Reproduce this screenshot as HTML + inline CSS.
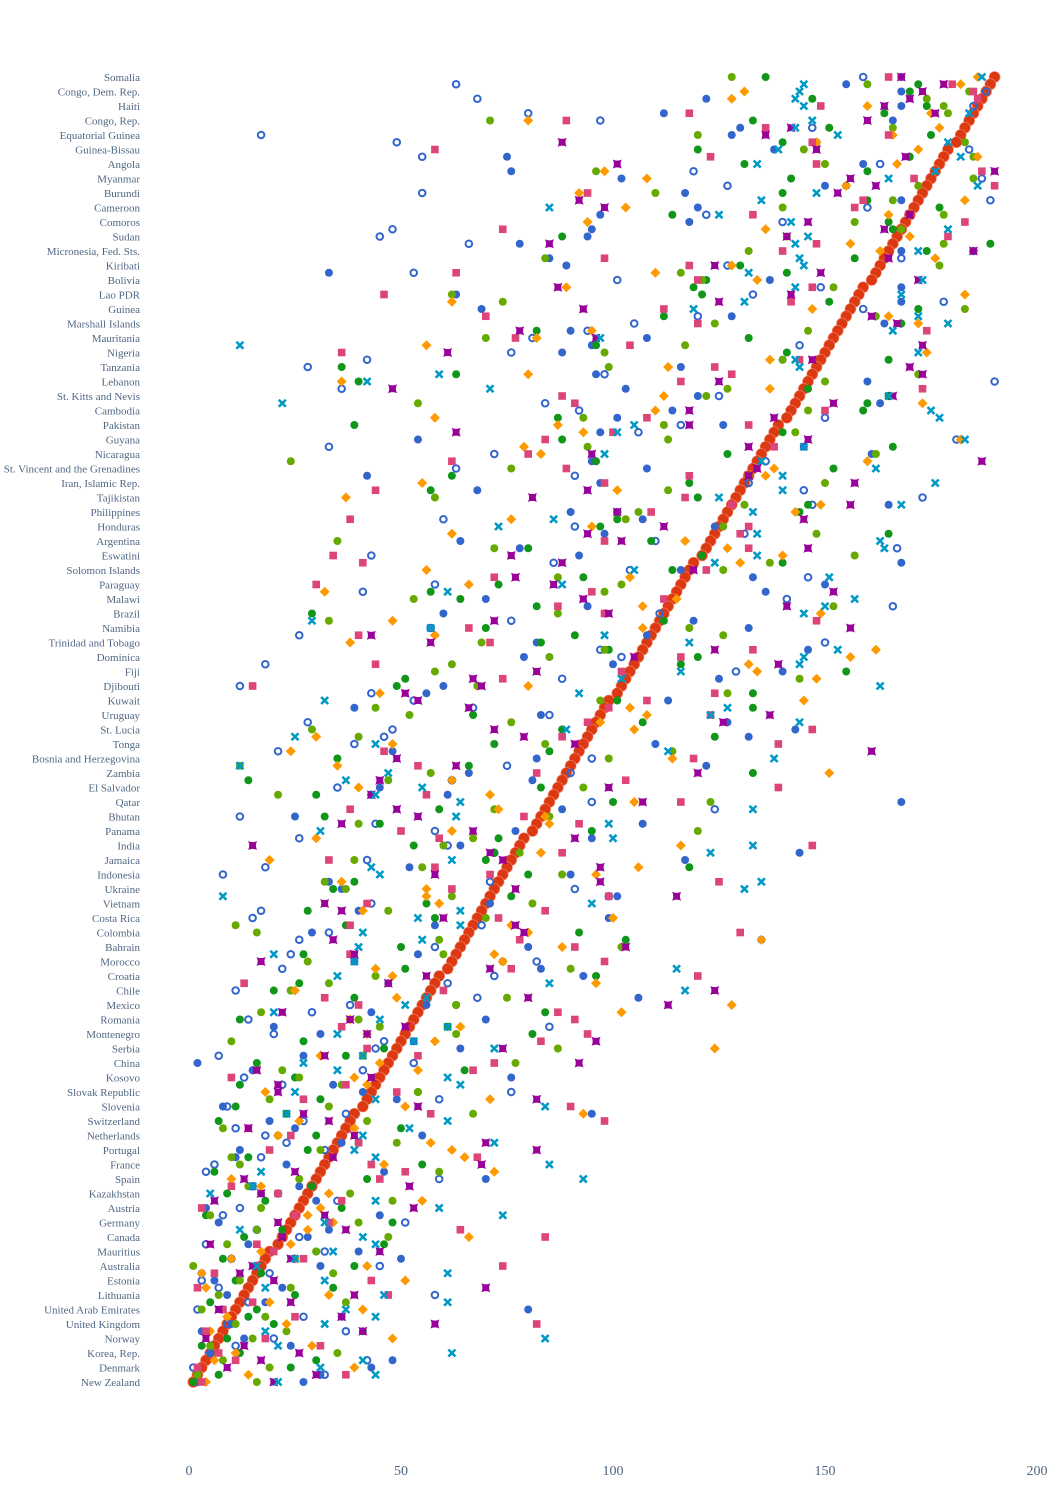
<!DOCTYPE html>
<html><head><meta charset="utf-8"><style>
body{margin:0;background:#fff;}
svg text{font-family:"Liberation Serif",serif;fill:#506784;}
</style></head><body>
<svg id="chart" width="1048" height="1500" xmlns="http://www.w3.org/2000/svg">
<g id="ylabels"></g>
<g id="xticks"></g>
<g id="marks"></g>
</svg>
<script>
const labels=["Somalia","Congo, Dem. Rep.","Haiti","Congo, Rep.","Equatorial Guinea","Guinea-Bissau","Angola","Myanmar","Burundi","Cameroon","Comoros","Sudan","Micronesia, Fed. Sts.","Kiribati","Bolivia","Lao PDR","Guinea","Marshall Islands","Mauritania","Nigeria","Tanzania","Lebanon","St. Kitts and Nevis","Cambodia","Pakistan","Guyana","Nicaragua","St. Vincent and the Grenadines","Iran, Islamic Rep.","Tajikistan","Philippines","Honduras","Argentina","Eswatini","Solomon Islands","Paraguay","Malawi","Brazil","Namibia","Trinidad and Tobago","Dominica","Fiji","Djibouti","Kuwait","Uruguay","St. Lucia","Tonga","Bosnia and Herzegovina","Zambia","El Salvador","Qatar","Bhutan","Panama","India","Jamaica","Indonesia","Ukraine","Vietnam","Costa Rica","Colombia","Bahrain","Morocco","Croatia","Chile","Mexico","Romania","Montenegro","Serbia","China","Kosovo","Slovak Republic","Slovenia","Switzerland","Netherlands","Portugal","France","Spain","Kazakhstan","Austria","Germany","Canada","Mauritius","Australia","Estonia","Lithuania","United Arab Emirates","United Kingdom","Norway","Korea, Rep.","Denmark","New Zealand"];
const xTicks=[0,50,100,150,200];
const rankVals=[190,189,188,187,186,185,184,183,182,181,179,178,177,176,175,174,173,172,171,170,169,168,167,166,165,164,163,162,161,159,158,157,156,155,154,153,152,151,150,149,148,147,146,145,144,143,142,141,139,138,137,136,135,134,133,132,131,130,129,128,127,126,125,124,123,122,121,119,118,117,116,115,114,113,112,111,110,109,108,107,106,105,104,103,102,101,99,98,97,96,95,94,93,92,91,90,89,88,87,86,85,84,83,82,81,79,78,77,76,75,74,73,72,71,70,69,68,67,66,65,64,63,62,61,59,58,57,56,55,54,53,52,51,50,49,48,47,46,45,44,43,42,41,39,38,37,36,35,34,33,32,31,30,29,28,27,26,25,24,23,22,21,19,18,17,16,15,14,13,12,11,10,9,8,7,6,5,4,3,2,1];
const blueVals=[168,155,168,122,168,112,166,130,128,148,138,75,159,76,102,150,117,168,120,97,118,95,94,78,168,85,89,33,137,168,63,168,69,128,164,90,108,95,88,140,116,96,160,103,120,163,114,101,126,97,54,145,161,95,108,42,97,68,120,165,90,107,124,98,64,78,92,168,116,133,150,136,70,94,60,119,132,108,82,146,79,100,140,125,60,56,113,39,83,127,143,132,110,48,82,122,66,81,45,61,168,88,25,107,77,95,64,144,117,52,90,33,36,101,71,40,99,58,29,135,80,54,39,83,93,47,24,106,56,43,70,20,31,53,64,27,2,15,76,34,41,49,8,95,19,25,55,36,12,11,23,46,70,26,17,30,4,45,7,33,28,14,40,50,31,3,6,22,9,18,80,36,10,3,13,24,5,48,43,31,27];
const blueOpenVals=[159,63,188,68,185,80,97,147,17,49,184,55,163,119,187,127,55,189,160,122,140,48,45,66,185,168,127,53,101,149,133,178,159,120,105,94,81,144,76,42,28,98,190,36,125,84,92,150,116,106,181,33,72,136,63,91,132,145,173,147,101,60,91,131,110,167,43,86,104,146,58,41,141,166,111,76,57,26,150,97,102,18,129,88,12,43,53,67,85,28,48,46,39,21,95,75,90,62,35,43,95,124,12,44,58,26,61,72,42,18,8,71,91,99,43,17,15,69,33,26,58,24,82,22,72,61,11,68,38,29,14,85,20,46,44,7,53,41,13,22,76,59,9,37,27,11,18,23,32,17,6,4,59,15,21,35,12,8,51,16,26,4,32,10,45,19,3,7,58,14,2,27,9,37,20,11,5,42,1,32,2];
const greenVals=[136,172,170,147,174,164,133,151,175,140,120,170,131,160,142,155,140,160,177,114,165,166,88,189,174,157,130,141,122,119,121,151,172,112,168,82,132,96,141,165,36,63,40,146,165,160,159,87,39,140,88,166,127,96,152,62,118,57,120,146,144,101,97,165,109,80,121,140,114,93,73,57,64,82,29,112,70,91,83,99,120,116,155,51,49,133,101,133,67,107,88,124,72,85,35,66,133,14,83,30,100,59,32,45,95,73,53,72,70,118,80,39,34,76,56,28,58,37,92,103,50,27,74,51,96,26,20,39,63,84,12,61,81,27,46,37,16,65,25,12,54,31,11,23,7,50,30,40,28,14,55,6,42,29,9,18,36,4,48,22,13,46,30,8,39,17,11,34,25,5,16,14,20,41,9,3,12,30,24,7,1];
const limeVals=[128,160,184,174,178,179,71,166,120,183,145,185,150,96,185,172,110,166,140,178,157,168,141,178,132,84,177,116,121,152,62,74,183,162,124,146,70,117,98,140,99,172,150,127,122,54,146,93,112,143,113,94,162,24,76,132,150,113,58,131,106,103,126,148,35,72,157,137,126,87,102,98,53,152,87,33,118,126,69,98,85,62,58,144,68,127,97,44,52,76,29,40,84,114,99,12,57,47,93,21,123,72,85,40,120,67,60,78,39,55,88,32,37,62,81,47,70,11,16,59,102,60,28,90,44,33,24,75,63,17,40,45,63,10,87,41,77,22,26,36,54,19,33,67,42,8,21,49,31,10,12,59,26,14,38,48,17,5,40,16,47,9,30,25,1,34,12,24,7,37,3,18,11,23,15,5,35,8,19,2,16];
const orangeVals=[186,182,131,128,160,175,80,177,166,148,172,186,167,98,108,155,92,183,103,165,94,136,170,156,163,176,128,110,134,89,183,62,147,165,172,95,82,56,174,137,113,80,36,137,112,173,110,58,87,93,182,79,83,160,138,136,55,101,37,149,143,76,95,62,117,127,140,130,56,104,66,32,115,107,149,48,107,58,38,162,156,132,134,148,80,45,145,104,108,97,105,30,48,24,114,35,151,62,40,71,105,73,84,85,62,30,116,83,19,106,96,36,56,56,59,41,100,76,80,135,88,72,74,44,48,96,25,49,128,102,38,64,42,58,124,31,45,54,39,42,18,71,51,93,26,39,21,57,62,65,46,72,10,17,33,55,31,28,34,28,66,24,17,10,42,3,51,4,33,19,41,9,23,5,48,29,11,6,39,14,4];
const pinkVals=[165,180,185,186,149,118,89,136,165,147,58,123,148,187,171,190,94,159,157,133,183,74,179,148,140,98,118,63,120,147,46,142,112,70,120,174,77,104,36,144,124,128,116,173,88,91,150,108,132,100,84,138,80,62,89,118,98,44,117,128,109,38,132,130,98,132,34,41,122,72,30,95,112,87,98,148,66,40,71,133,116,44,102,74,15,124,108,99,123,94,147,88,139,46,119,54,82,103,139,56,116,38,79,92,50,59,147,88,33,58,71,125,62,99,42,84,73,38,130,78,91,38,98,76,120,13,60,32,40,87,91,36,94,83,42,54,72,67,10,37,49,27,90,57,98,14,24,40,19,68,43,51,45,10,21,36,3,25,33,64,84,16,20,27,74,6,43,2,47,15,8,25,82,4,18,31,7,11,2,37,3];
const purpleVals=[168,178,173,170,164,176,160,142,136,88,148,169,101,190,156,162,153,92,98,170,146,164,141,85,185,165,124,149,172,87,142,125,93,161,167,78,96,173,61,147,170,173,125,48,166,152,118,138,118,63,146,132,95,187,134,132,157,94,81,156,101,145,112,94,102,146,76,88,119,77,86,152,93,141,99,72,156,43,57,124,105,139,82,67,69,51,54,66,137,126,72,79,91,161,49,63,120,45,99,43,107,49,54,36,67,91,15,71,74,97,58,97,77,115,32,36,60,77,79,34,103,39,17,71,56,47,124,80,113,22,38,51,42,96,74,32,92,16,43,21,21,82,54,27,33,14,39,70,82,34,69,25,13,52,17,6,53,32,21,37,22,5,45,24,15,12,20,70,39,24,7,36,58,41,4,13,26,17,9,30,20];
const cyanVals=[187,145,144,143,145,184,147,143,153,179,139,182,134,176,165,186,148,135,85,125,142,179,146,143,172,144,145,132,173,143,168,131,119,172,179,166,97,12,172,143,144,59,42,71,165,22,175,177,105,101,183,145,98,135,162,140,176,140,125,168,133,86,73,134,163,164,134,124,105,151,88,61,157,150,145,29,57,98,118,153,145,144,116,102,163,92,32,127,123,144,89,25,44,113,138,12,47,37,55,44,64,133,63,99,31,100,133,123,62,43,45,135,131,8,95,64,54,64,41,55,40,20,39,115,35,85,117,56,51,20,45,61,35,53,72,41,27,35,61,64,25,44,84,23,61,52,41,72,39,44,85,17,93,15,5,44,59,74,32,12,41,44,34,25,16,61,32,18,46,61,37,44,32,18,84,21,62,41,31,44,21];

const NS="http://www.w3.org/2000/svg";
const X0=189, X1=1037, Y0=77, Y1=1382;
const nRows=rankVals.length;
function xScale(v){return X0+(v-0)*(X1-X0)/200;}
function yScale(i){return Y0+i*(Y1-Y0)/(nRows-1);}
function mk(tag,attrs,parent){const e=document.createElementNS(NS,tag);for(const k in attrs)e.setAttribute(k,attrs[k]);parent.appendChild(e);return e;}

const yl=document.getElementById('ylabels');
labels.forEach((l,k)=>{
  const t=mk('text',{x:140,y:yScale(k*2)+4,'text-anchor':'end','font-size':'11'},yl);
  
  
  t.textContent=l;
});
const xt=document.getElementById('xticks');
xTicks.forEach(v=>{
  const t=mk('text',{x:xScale(v),y:1475,'text-anchor':'middle','font-size':'14'},xt);
  
  
  t.textContent=v;
});

const marks=document.getElementById('marks');
function draw(vals,type,color,name){
  const g=mk('g',{},marks);
  
  
  vals.forEach((v,i)=>{
    if(v==null)return;
    const x=xScale(v),y=yScale(i);let e;
    if(type==='big'){e=mk('circle',{cx:x,cy:y,r:5.5,fill:color,stroke:'#f08a70','stroke-width':0.6},g);}
    else if(type==='circle'){e=mk('circle',{cx:x,cy:y,r:4,fill:color},g);}
    else if(type==='open'){e=mk('circle',{cx:x,cy:y,r:3.3,fill:'none',stroke:color,'stroke-width':2},g);}
    else if(type==='diamond'){e=mk('path',{d:`M${x},${y-5}L${x+5},${y}L${x},${y+5}L${x-5},${y}Z`,fill:color},g);}
    else if(type==='square'){e=mk('rect',{x:x-3.8,y:y-3.8,width:7.6,height:7.6,fill:color},g);}
    else if(type==='star'){const s=4.5,c=2.2;e=mk('path',{d:`M${x-s},${y-s}Q${x},${y-c} ${x+s},${y-s}Q${x+c},${y} ${x+s},${y+s}Q${x},${y+c} ${x-s},${y+s}Q${x-c},${y} ${x-s},${y-s}Z`,fill:color},g);}
    else if(type==='x'){e=mk('path',{d:`M${x-3.5},${y-3.5}L${x+3.5},${y+3.5}M${x+3.5},${y-3.5}L${x-3.5},${y+3.5}`,stroke:color,'stroke-width':2.6,fill:'none'},g);}
    
    
  });
}
draw(rankVals,'big','#dc3912','rank');
draw(blueVals,'circle','#3366cc','blue');
draw(blueOpenVals,'open','#3366cc','blue-open');
draw(greenVals,'circle','#109618','green');
draw(limeVals,'circle','#66aa00','lime');
draw(orangeVals,'diamond','#ff9900','orange');
draw(pinkVals,'square','#dd4477','pink');
draw(purpleVals,'star','#990099','purple');
draw(cyanVals,'x','#0099c6','cyan');
</script>
</body></html>
